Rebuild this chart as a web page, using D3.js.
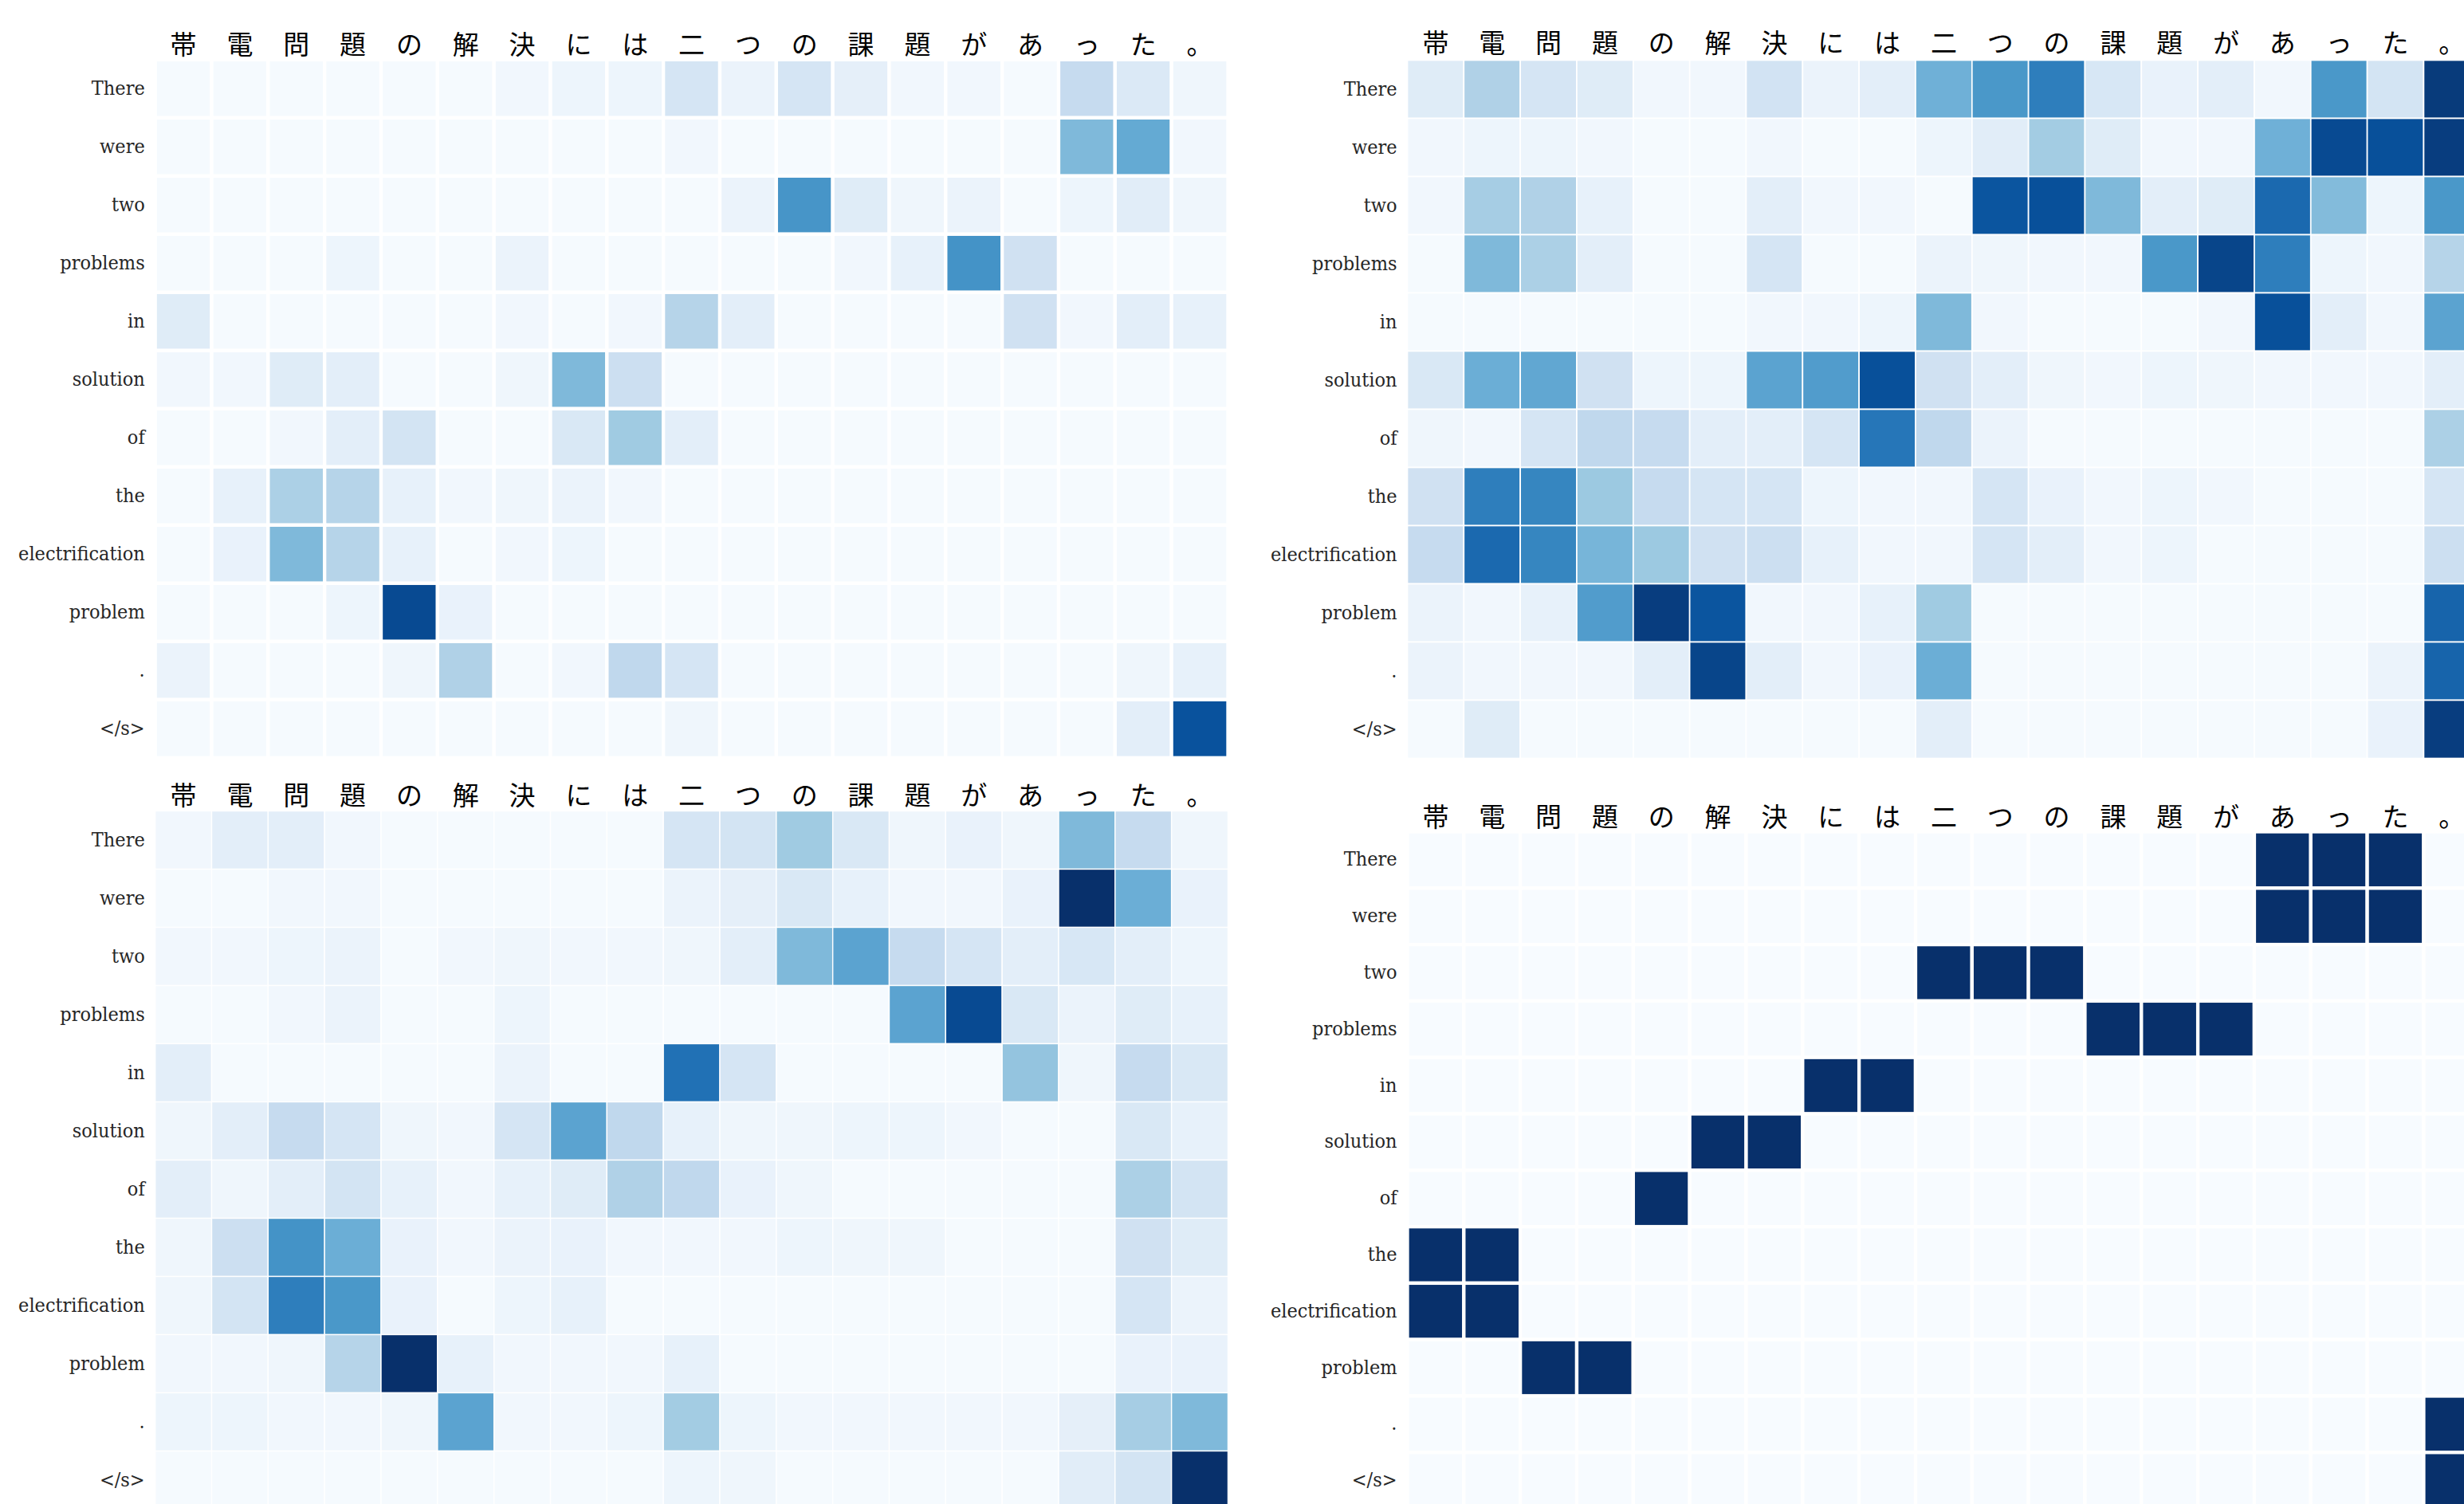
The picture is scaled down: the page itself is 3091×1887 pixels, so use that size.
<!DOCTYPE html>
<html>
<head>
<meta charset="utf-8">
<script src="https://cdn.jsdelivr.net/npm/d3@7"></script>
<style>
  html, body { margin: 0; padding: 0; background: #ffffff; }
  svg { display: block; }
</style>
</head>
<body>
<svg id="chart" width="3091" height="1887"></svg>
<script>
// Target-side tokens (columns) and source-side tokens (rows)
const tgtTokens = ["帯","電","問","題","の","解","決","に","は","二","つ","の","課","題","が","あ","っ","た","。"];
const srcTokens = ["There","were","two","problems","in","solution","of","the","electrification","problem",".","</s>"];

// Attention weights, head / layer A
const attnTopLeft = [
  [0.01,0.01,0.01,0.01,0.01,0.01,0.03,0.05,0.05,0.17,0.06,0.17,0.09,0.03,0.03,0.01,0.25,0.14,0.04],
  [0.01,0.01,0.01,0.01,0.01,0.01,0.01,0.01,0.01,0.03,0.01,0.01,0.01,0.01,0.01,0.01,0.45,0.52,0.03],
  [0.01,0.01,0.01,0.01,0.01,0.01,0.01,0.01,0.01,0.01,0.06,0.61,0.12,0.04,0.06,0.01,0.05,0.11,0.04],
  [0.01,0.01,0.01,0.05,0.01,0.01,0.06,0.01,0.01,0.01,0.01,0.01,0.03,0.08,0.62,0.20,0.01,0.01,0.01],
  [0.12,0.01,0.01,0.01,0.01,0.01,0.03,0.01,0.03,0.30,0.10,0.01,0.01,0.01,0.01,0.20,0.03,0.10,0.08],
  [0.03,0.03,0.12,0.10,0.01,0.01,0.04,0.45,0.22,0.01,0.01,0.01,0.01,0.01,0.01,0.01,0.01,0.01,0.01],
  [0.01,0.01,0.03,0.10,0.18,0.01,0.01,0.15,0.37,0.10,0.01,0.01,0.01,0.01,0.01,0.01,0.01,0.01,0.01],
  [0.01,0.08,0.33,0.30,0.08,0.03,0.04,0.06,0.03,0.01,0.01,0.01,0.01,0.01,0.01,0.01,0.01,0.01,0.01],
  [0.01,0.07,0.45,0.30,0.08,0.01,0.03,0.05,0.01,0.01,0.01,0.01,0.01,0.01,0.01,0.01,0.01,0.01,0.01],
  [0.01,0.01,0.01,0.05,0.90,0.07,0.01,0.01,0.01,0.01,0.01,0.01,0.01,0.01,0.01,0.01,0.01,0.01,0.01],
  [0.06,0.01,0.01,0.01,0.04,0.32,0.01,0.03,0.27,0.17,0.01,0.01,0.01,0.01,0.01,0.01,0.01,0.04,0.08],
  [0.01,0.01,0.01,0.01,0.01,0.01,0.01,0.01,0.01,0.04,0.01,0.01,0.01,0.01,0.01,0.01,0.01,0.10,0.87]
];

// Attention weights, head / layer B
const attnTopRight = [
  [0.12,0.32,0.17,0.12,0.03,0.03,0.19,0.06,0.10,0.49,0.60,0.70,0.16,0.07,0.10,0.03,0.60,0.18,0.96],
  [0.03,0.05,0.05,0.03,0.01,0.01,0.03,0.01,0.01,0.05,0.11,0.36,0.12,0.03,0.03,0.49,0.90,0.88,0.95],
  [0.03,0.35,0.32,0.08,0.01,0.01,0.10,0.03,0.03,0.01,0.86,0.88,0.45,0.10,0.12,0.78,0.44,0.05,0.60],
  [0.01,0.45,0.33,0.10,0.01,0.01,0.17,0.01,0.01,0.06,0.04,0.03,0.03,0.60,0.92,0.70,0.05,0.03,0.30],
  [0.01,0.01,0.01,0.01,0.01,0.01,0.03,0.03,0.05,0.45,0.03,0.01,0.01,0.01,0.03,0.88,0.10,0.03,0.55],
  [0.15,0.50,0.53,0.20,0.05,0.05,0.55,0.58,0.88,0.20,0.10,0.04,0.03,0.05,0.04,0.03,0.03,0.03,0.10],
  [0.04,0.03,0.17,0.27,0.25,0.10,0.10,0.17,0.73,0.27,0.06,0.01,0.01,0.01,0.01,0.01,0.01,0.01,0.33],
  [0.20,0.70,0.67,0.38,0.25,0.17,0.17,0.05,0.03,0.03,0.17,0.07,0.03,0.05,0.03,0.01,0.01,0.01,0.17],
  [0.25,0.78,0.67,0.47,0.38,0.20,0.22,0.08,0.03,0.03,0.17,0.10,0.03,0.05,0.01,0.01,0.01,0.01,0.22],
  [0.06,0.03,0.08,0.58,0.95,0.86,0.03,0.03,0.08,0.37,0.01,0.01,0.01,0.01,0.01,0.01,0.01,0.01,0.80],
  [0.06,0.03,0.03,0.03,0.10,0.92,0.10,0.03,0.07,0.50,0.01,0.01,0.01,0.01,0.01,0.01,0.01,0.06,0.80],
  [0.01,0.12,0.01,0.01,0.01,0.01,0.01,0.01,0.01,0.10,0.01,0.01,0.01,0.01,0.01,0.01,0.01,0.07,0.95]
];

// Attention weights, head / layer C
const attnBottomLeft = [
  [0.03,0.10,0.10,0.03,0.01,0.01,0.01,0.01,0.01,0.17,0.18,0.37,0.15,0.04,0.07,0.04,0.45,0.25,0.04],
  [0.01,0.01,0.03,0.03,0.01,0.01,0.01,0.01,0.01,0.06,0.09,0.15,0.08,0.03,0.03,0.07,1.00,0.50,0.07],
  [0.03,0.03,0.05,0.06,0.01,0.03,0.04,0.03,0.03,0.04,0.10,0.45,0.55,0.25,0.17,0.10,0.16,0.10,0.05],
  [0.01,0.01,0.03,0.06,0.01,0.01,0.05,0.01,0.01,0.01,0.01,0.01,0.01,0.55,0.90,0.15,0.06,0.12,0.08],
  [0.10,0.01,0.01,0.01,0.01,0.01,0.06,0.01,0.01,0.75,0.17,0.01,0.01,0.01,0.01,0.40,0.04,0.25,0.15],
  [0.04,0.10,0.25,0.17,0.04,0.03,0.17,0.55,0.27,0.08,0.04,0.04,0.05,0.05,0.03,0.01,0.01,0.15,0.08],
  [0.10,0.04,0.10,0.18,0.08,0.03,0.08,0.12,0.32,0.27,0.07,0.04,0.01,0.01,0.01,0.01,0.01,0.33,0.18],
  [0.04,0.22,0.62,0.50,0.07,0.03,0.06,0.07,0.03,0.03,0.03,0.05,0.04,0.04,0.01,0.01,0.01,0.20,0.12],
  [0.04,0.18,0.70,0.60,0.07,0.01,0.05,0.08,0.01,0.01,0.01,0.01,0.01,0.01,0.01,0.01,0.01,0.17,0.06],
  [0.03,0.03,0.04,0.30,1.00,0.08,0.03,0.03,0.03,0.08,0.01,0.01,0.01,0.01,0.01,0.01,0.01,0.07,0.07],
  [0.05,0.05,0.03,0.03,0.04,0.55,0.03,0.03,0.05,0.36,0.05,0.03,0.03,0.03,0.03,0.03,0.09,0.35,0.45],
  [0.01,0.01,0.01,0.01,0.01,0.01,0.01,0.01,0.01,0.05,0.04,0.01,0.01,0.01,0.01,0.01,0.11,0.18,1.00]
];

// Reference word alignment (1 = aligned)
const alignBottomRight = [
  [0,0,0,0,0,0,0,0,0,0,0,0,0,0,0,1,1,1,0],
  [0,0,0,0,0,0,0,0,0,0,0,0,0,0,0,1,1,1,0],
  [0,0,0,0,0,0,0,0,0,1,1,1,0,0,0,0,0,0,0],
  [0,0,0,0,0,0,0,0,0,0,0,0,1,1,1,0,0,0,0],
  [0,0,0,0,0,0,0,1,1,0,0,0,0,0,0,0,0,0,0],
  [0,0,0,0,0,1,1,0,0,0,0,0,0,0,0,0,0,0,0],
  [0,0,0,0,1,0,0,0,0,0,0,0,0,0,0,0,0,0,0],
  [1,1,0,0,0,0,0,0,0,0,0,0,0,0,0,0,0,0,0],
  [1,1,0,0,0,0,0,0,0,0,0,0,0,0,0,0,0,0,0],
  [0,0,1,1,0,0,0,0,0,0,0,0,0,0,0,0,0,0,0],
  [0,0,0,0,0,0,0,0,0,0,0,0,0,0,0,0,0,0,1],
  [0,0,0,0,0,0,0,0,0,0,0,0,0,0,0,0,0,0,1]
];

// "Blues" colour ramp, linear between the nine ColorBrewer stops
const bluesStops = ["#f7fbff","#deebf7","#c6dbef","#9ecae1","#6baed6","#4292c6","#2171b5","#08519c","#08306b"];
const color = d3.scaleLinear()
  .domain(bluesStops.map((_, i) => i / (bluesStops.length - 1)))
  .range(bluesStops)
  .interpolate(d3.interpolateRgb)
  .clamp(true);

const colStep = 70.83;

// Panel layout
const panels = [
  { values: attnTopLeft,      left: 194.7,  top: 74.8,   rowStep: 73.0, lw: 4.3, labelGap: 20.5 },
  { values: attnTopRight,     left: 1765.5, top: 75.5,   rowStep: 73.0, lw: 1.7, labelGap: 24.0 },
  { values: attnBottomLeft,   left: 194.7,  top: 1017.5, rowStep: 73.0, lw: 1.4, labelGap: 22.0 },
  { values: alignBottomRight, left: 1765.5, top: 1043.5, rowStep: 70.8, lw: 4.3, labelGap: 21.0 }
];

const svg = d3.select("#chart");

panels.forEach(p => {
  const x = d3.scaleBand()
    .domain(d3.range(tgtTokens.length))
    .range([p.left, p.left + colStep * tgtTokens.length])
    .paddingInner(0).paddingOuter(0);
  const y = d3.scaleBand()
    .domain(d3.range(srcTokens.length))
    .range([p.top, p.top + p.rowStep * srcTokens.length])
    .paddingInner(0).paddingOuter(0);

  const g = svg.append("g");

  const cells = [];
  p.values.forEach((row, r) => row.forEach((v, c) => cells.push({ r, c, v })));

  g.append("g")
    .selectAll("rect")
    .data(cells)
    .join("rect")
      .attr("x", d => x(d.c))
      .attr("y", d => y(d.r))
      .attr("width", x.bandwidth())
      .attr("height", y.bandwidth())
      .attr("fill", d => color(d.v))
      .attr("stroke", "#ffffff")
      .attr("stroke-width", p.lw);

  // Column labels (target tokens) along the top
  const xAxis = g.append("g")
    .attr("transform", `translate(0,${p.top})`)
    .call(d3.axisTop(x).tickSize(0).tickPadding(p.labelGap).tickFormat(i => tgtTokens[i]));
  xAxis.select(".domain").remove();
  xAxis.selectAll("text")
    .attr("dy", null)
    .attr("dominant-baseline", "central")
    .attr("font-family", "'Noto Sans CJK JP', 'Noto Sans CJK SC', sans-serif")
    .attr("font-size", 33)
    .attr("fill", "#000000");

  // Row labels (source tokens) on the left
  const yAxis = g.append("g")
    .attr("transform", `translate(${p.left},0)`)
    .call(d3.axisLeft(y).tickSize(0).tickPadding(13).tickFormat(i => srcTokens[i]));
  yAxis.select(".domain").remove();
  yAxis.selectAll("text")
    .attr("x", -13 / 0.9)
    .attr("dy", null)
    .attr("y", 7.5)
    .attr("transform", "scale(0.9,1)")
    .attr("font-family", "'DejaVu Serif', serif")
    .attr("font-size", 25)
    .attr("fill", "#262626");
});
</script>
</body>
</html>
